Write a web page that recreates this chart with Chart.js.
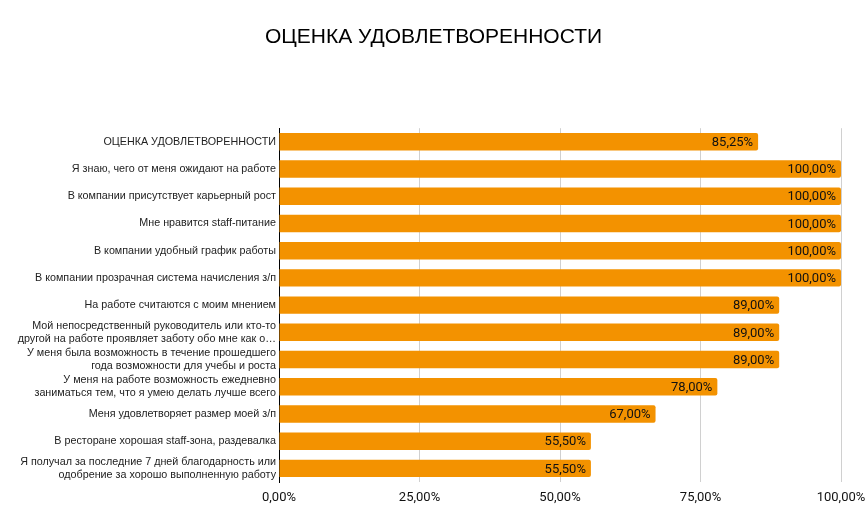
<!DOCTYPE html>
<html>
<head>
<meta charset="utf-8">
<script src="https://cdn.jsdelivr.net/npm/chart.js@4"></script>
<style>
  body { margin: 0; background: #fff; }
  #wrap { width: 867px; height: 532px; }
</style>
</head>
<body>
<div id="wrap"><canvas id="chart"></canvas></div>
<script>
// категории (подписи оси Y)
const categories = [
  'ОЦЕНКА УДОВЛЕТВОРЕННОСТИ',
  'Я знаю, чего от меня ожидают на работе',
  'В компании присутствует карьерный рост',
  'Мне нравится staff-питание',
  'В компании удобный график работы',
  'В компании прозрачная система начисления з/п',
  'На работе считаются с моим мнением',
  ['Мой непосредственный руководитель или кто-то', 'другой на работе проявляет заботу обо мне как о…'],
  ['У меня была возможность в течение прошедшего', 'года возможности для учебы и роста'],
  ['У меня на работе возможность ежедневно', 'заниматься тем, что я умею делать лучше всего'],
  'Меня удовлетворяет размер моей з/п',
  'В ресторане хорошая staff-зона, раздевалка',
  ['Я получал за последние 7 дней благодарность или', 'одобрение за хорошо выполненную работу']
];

// значения, %
const values = [85.25, 100, 100, 100, 100, 100, 89, 89, 89, 78, 67, 55.5, 55.5];

// подписи оси X
const xTicks = [0, 25, 50, 75, 100];

const fmt = v => v.toFixed(2).replace('.', ',') + '%';

// подписи значений внутри конца столбца
const barLabels = {
  id: 'barLabels',
  afterDatasetsDraw(chart) {
    const ctx = chart.ctx;
    const meta = chart.getDatasetMeta(0);
    ctx.save();
    ctx.font = '13px Roboto';
    ctx.fillStyle = '#111';
    ctx.textAlign = 'right';
    ctx.textBaseline = 'middle';
    meta.data.forEach((bar, i) => {
      ctx.fillText(fmt(values[i]), bar.x - 5, bar.y + 1);
    });
    ctx.restore();
  }
};

const ctx = document.getElementById('chart').getContext('2d');
new Chart(ctx, {
  type: 'bar',
  data: {
    labels: categories,
    datasets: [{
      data: values,
      backgroundColor: '#f39200',
      borderRadius: 2,
      barPercentage: 0.64,
      categoryPercentage: 1
    }]
  },
  options: {
    indexAxis: 'y',
    responsive: true,
    maintainAspectRatio: false,
    animation: false,
    layout: { padding: 0 },
    plugins: {
      legend: { display: false },
      tooltip: { enabled: false },
      title: {
        display: true,
        text: 'ОЦЕНКА УДОВЛЕТВОРЕННОСТИ',
        color: '#000',
        font: { family: 'Liberation Sans', size: 21, weight: 'normal' },
        padding: { top: 25, bottom: 78 }
      }
    },
    scales: {
      x: {
        min: 0,
        max: 100,
        afterBuildTicks: s => { s.ticks = xTicks.map(v => ({ value: v })); },
        afterFit: s => { s.height = 50; },
        grid: { color: '#d0d0d0', drawTicks: true, tickLength: 8, tickColor: 'rgba(0,0,0,0)' },
        border: { display: false },
        ticks: {
          padding: 0,
          color: '#111',
          font: { family: 'Roboto', size: 13 },
          callback: v => fmt(v)
        }
      },
      y: {
        afterFit: s => { s.width = 279; },
        grid: { display: false, drawTicks: false },
        border: { display: true, color: '#000', width: 1 },
        ticks: {
          autoSkip: false,
          padding: 3,
          color: '#222',
          font: { family: 'Liberation Sans', size: 10.75 }
        }
      },
      // пустое поле справа
      yRight: {
        type: 'category',
        position: 'right',
        afterFit: s => { s.width = 26; },
        grid: { display: false, drawTicks: false },
        border: { display: false },
        ticks: { display: false }
      }
    }
  },
  plugins: [barLabels]
});
</script>
</body>
</html>
